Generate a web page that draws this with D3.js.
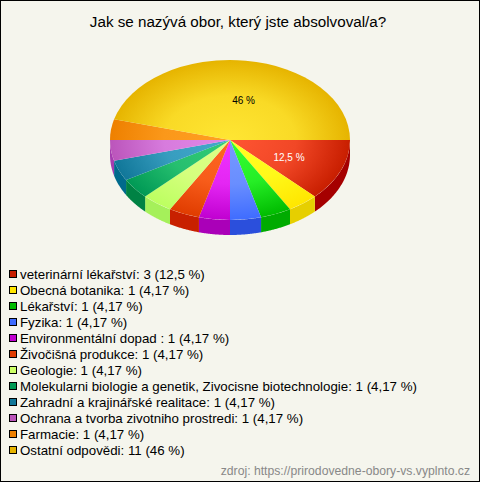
<!DOCTYPE html>
<html lang="cs">
<head>
  <meta charset="UTF-8">
  <title>Jak se nazývá obor, který jste absolvoval/a?</title>
  <script src="https://d3js.org/d3.v7.min.js"></script>
  <style>
    body {
      margin: 0;
      padding: 0;
      background: #f5f5ed;
    }

    svg {
      display: block;
      font-family: 'Liberation Sans', Arial, sans-serif;
    }
  </style>
</head>

<body>
  <div id="chart"></div>

  <script>
    const titleText = "Jak se nazývá obor, který jste absolvoval/a?";
    const sourceText = "zdroj: https://prirodovedne-obory-vs.vyplnto.cz";

    const categories = [
      "veterinární lékařství", "Obecná botanika", "Lékařství", "Fyzika",
      "Environmentální dopad ", "Živočišná produkce", "Geologie",
      "Molekularni biologie a genetik, Zivocisne biotechnologie",
      "Zahradní a krajinářské realitace", "Ochrana a tvorba zivotniho prostredi",
      "Farmacie", "Ostatní odpovědi"
    ];
    const counts = [3, 1, 1, 1, 1, 1, 1, 1, 1, 1, 1, 11];
    const percents = ["12,5", "4,17", "4,17", "4,17", "4,17", "4,17", "4,17", "4,17", "4,17", "4,17", "4,17", "46"];

    const innerColors = ["#ff5533", "#ffff22", "#33ff33", "#7799ff", "#f033ff", "#ff6622", "#ddff88", "#33cc77", "#44aacc", "#e088e8", "#ffa022", "#ffe633"];
    const outerColors = ["#c81e00", "#ffe600", "#00bb00", "#3f6cff", "#c000d0", "#e03c00", "#bcff60", "#009955", "#117799", "#bb55bb", "#ee8000", "#e6b400"];
    const wallColors = ["#a50000", "#e6cf00", "#00ab00", "#2b4fdc", "#aa00b8", "#c82000", "#a5f05a", "#008244", "#006a8c", "#a63cb0", "#ee8000", "#e6b400"];
    const legendColors = ["#c81e00", "#ffe600", "#00bb00", "#3f6cff", "#c000d0", "#e03c00", "#ccff66", "#009955", "#117799", "#bb55bb", "#ee8000", "#e6b400"];

    const width = 480, height = 482;
    const cx = 230, cy = 140, rx = 120, ry = 80, depth = 15;

    const svg = d3.select("#chart").append("svg")
      .attr("width", width)
      .attr("height", height);

    svg.append("rect")
      .attr("x", 0.5)
      .attr("y", 0.5)
      .attr("width", width - 1)
      .attr("height", height - 1)
      .attr("fill", "#f5f5ed")
      .attr("stroke", "#000");

    svg.append("text")
      .attr("x", 238)
      .attr("y", 27)
      .attr("text-anchor", "middle")
      .attr("font-size", 15.2)
      .attr("fill", "#000")
      .text(titleText);

    // pie starts at 3 o'clock and goes clockwise
    const pie = d3.pie()
      .sort(null)
      .startAngle(Math.PI / 2)
      .endAngle(Math.PI / 2 + 2 * Math.PI);
    const slices = pie(counts);

    const arc = d3.arc().innerRadius(0).outerRadius(rx);
    const labelArc = d3.arc().innerRadius(rx * 0.55).outerRadius(rx * 0.55);

    const defs = svg.append("defs");
    slices.forEach((d, i) => {
      const grad = defs.append("radialGradient")
        .attr("id", "slice" + i)
        .attr("gradientUnits", "userSpaceOnUse")
        .attr("cx", 0)
        .attr("cy", 0)
        .attr("r", rx);
      grad.append("stop").attr("offset", 0).attr("stop-color", innerColors[i]);
      grad.append("stop").attr("offset", 0.55).attr("stop-color", d3.interpolateRgb(innerColors[i], outerColors[i])(0.25));
      grad.append("stop").attr("offset", 1).attr("stop-color", outerColors[i]);
    });

    // side wall, only the part of each slice that faces the viewer
    const wall = (a0, a1) => {
      const steps = d3.range(0, 41).map(k => a0 + (a1 - a0) * k / 40);
      const px = a => cx + rx * Math.sin(a);
      const py = a => cy - ry * Math.cos(a);
      const top = steps.map(a => [px(a), py(a)]);
      const bottom = steps.slice().reverse().map(a => [px(a), py(a) + depth]);
      return d3.line()(top.concat(bottom)) + "Z";
    };

    svg.append("g")
      .selectAll("path")
      .data(slices.filter(d => d.startAngle < Math.PI * 1.5))
      .enter().append("path")
      .attr("d", d => wall(d.startAngle, Math.min(d.endAngle, Math.PI * 1.5)))
      .attr("fill", d => wallColors[d.index]);

    svg.append("g")
      .attr("transform", "translate(" + cx + "," + cy + ") scale(1," + ry / rx + ")")
      .selectAll("path")
      .data(slices)
      .enter().append("path")
      .attr("d", arc)
      .attr("fill", d => "url(#slice" + d.index + ")");

    // only the first slice and the last one carry a label
    [[0, -2, 0], [11, 5, 3.5]].forEach(([i, nudgeX, nudgeY]) => {
      const c = labelArc.centroid(slices[i]);
      svg.append("text")
        .attr("x", cx + c[0] + nudgeX)
        .attr("y", cy + c[1] * ry / rx + 4 + nudgeY)
        .attr("text-anchor", "middle")
        .attr("font-size", 10)
        .attr("fill", i === 0 ? "#fff" : "#000")
        .text(percents[i] + " %");
    });

    const legendY = d3.scalePoint()
      .domain(d3.range(categories.length))
      .range([274, 450]);

    const legend = svg.append("g")
      .selectAll("g")
      .data(categories)
      .enter().append("g")
      .attr("transform", (d, i) => "translate(0," + legendY(i) + ")");

    legend.append("rect")
      .attr("x", 9.5)
      .attr("y", -3.5)
      .attr("width", 7)
      .attr("height", 7)
      .attr("fill", (d, i) => legendColors[i])
      .attr("stroke", "#000");

    legend.append("text")
      .attr("x", 20)
      .attr("y", 5)
      .attr("font-size", 13.3)
      .attr("fill", "#000")
      .style("white-space", "pre")
      .text((d, i) => d + ": " + counts[i] + " (" + percents[i] + " %)");

    svg.append("text")
      .attr("x", 470)
      .attr("y", 475)
      .attr("text-anchor", "end")
      .attr("font-size", 12.2)
      .attr("fill", "#888")
      .text(sourceText);
  </script>

</body>
</html>
